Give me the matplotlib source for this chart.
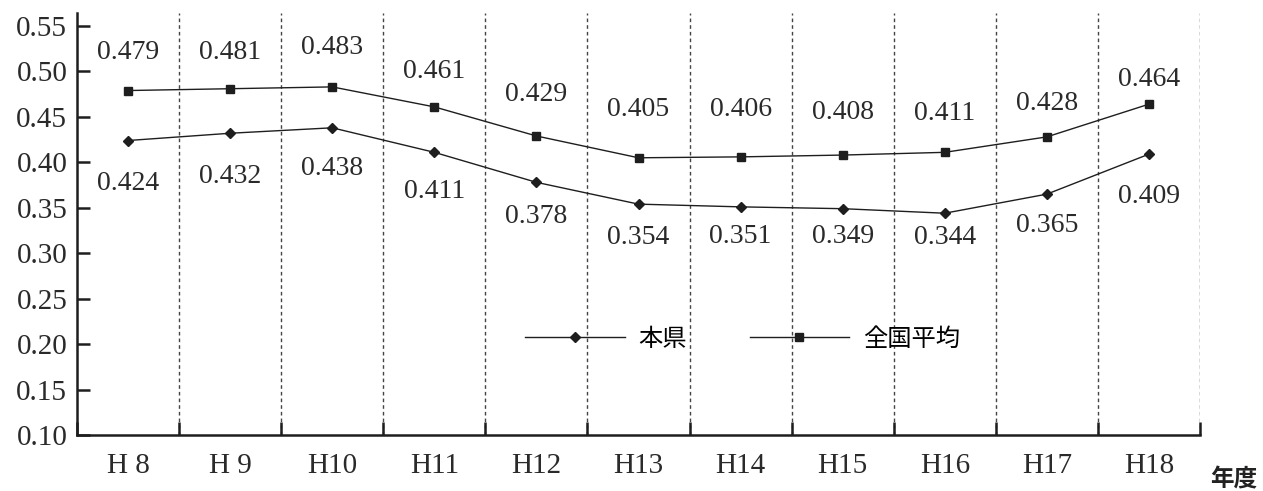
import matplotlib
matplotlib.use("Agg")
import matplotlib.pyplot as plt
from matplotlib.ticker import MultipleLocator, FixedLocator

plt.rcParams['font.family'] = ['Liberation Serif', 'Noto Sans CJK JP']

# Fiscal years and the two series
years = ["H 8", "H 9", "H10", "H11", "H12", "H13", "H14", "H15", "H16", "H17", "H18"]
national = [0.479, 0.481, 0.483, 0.461, 0.429, 0.405, 0.406, 0.408, 0.411, 0.428, 0.464]
prefecture = [0.424, 0.432, 0.438, 0.411, 0.378, 0.354, 0.351, 0.349, 0.344, 0.365, 0.409]

# vertical offsets (points) of the value labels so they clear the lines
national_dy = [27.4, 25.9, 28.1, 25.2, 30.2, 34.6, 33.8, 31.0, 28.1, 23.8, 18.0]
prefecture_dy = [31.0, 31.0, 29.5, 28.1, 24.5, 23.8, 21.6, 20.2, 17.3, 22.3, 30.2]

ink = "#1e1e1e"
sans = "Noto Sans CJK JP"

fig = plt.figure(figsize=(12.63, 4.91), dpi=100)
ax = fig.add_axes([0.0610, 0.1141, 0.8891, 0.8594])

x = [i + 0.5 for i in range(len(years))]

# dotted separators between the years
for b in range(1, len(years) + 1):
    ax.axvline(b, color="#444444", lw=1.0, ls=(0, (2.6, 2.2)), zorder=1)

ax.plot(x, prefecture, color=ink, lw=1.0, marker="D", ms=5.2,
        mfc=ink, mec=ink, label="本県", zorder=3)
ax.plot(x, national, color=ink, lw=1.0, marker="s", ms=5.4,
        mfc=ink, mec=ink, label="全国平均", zorder=3)

for xi, v, dy in zip(x, national, national_dy):
    ax.annotate(f"{v:.3f}", (xi, v), xytext=(0, dy), textcoords="offset points",
                ha="center", va="center", fontsize=20, color="#2a2a2a")
for xi, v, dy in zip(x, prefecture, prefecture_dy):
    ax.annotate(f"{v:.3f}", (xi, v), xytext=(0, -dy), textcoords="offset points",
                ha="center", va="center", fontsize=20, color="#2a2a2a")

ax.set_xlim(0, len(years))
ax.set_ylim(0.10, 0.5643)

ax.yaxis.set_major_locator(MultipleLocator(0.05))
ax.yaxis.set_major_formatter(plt.FuncFormatter(lambda v, p: f"{v:.2f}"))
ax.tick_params(axis="y", direction="in", length=9.5, width=1.8, color=ink,
               labelsize=21, pad=7, labelcolor="#2a2a2a")

ax.xaxis.set_major_locator(FixedLocator(range(len(years) + 1)))
ax.xaxis.set_minor_locator(FixedLocator(x))
ax.xaxis.set_major_formatter(plt.NullFormatter())
ax.xaxis.set_minor_formatter(plt.FixedFormatter(years))
ax.tick_params(axis="x", which="major", direction="in", length=9.5, width=1.8, color=ink)
ax.tick_params(axis="x", which="minor", length=0, labelsize=21, pad=13,
               labelcolor="#2a2a2a")

for side in ["top", "right"]:
    ax.spines[side].set_visible(False)
for side in ["left", "bottom"]:
    ax.spines[side].set_linewidth(1.8)
    ax.spines[side].set_color(ink)

ax.legend(loc="center left", bbox_to_anchor=(0.388, 0.228), ncol=2, frameon=False,
          prop={"family": sans, "size": 17.5}, handlelength=4.1, handletextpad=0.55,
          columnspacing=2.6, borderpad=0, numpoints=1)

fig.text(1234 / 1263, 1 - 479 / 491, "年度", family=sans, fontsize=17,
         fontweight="bold", ha="center", va="center", color="#222222")

fig.savefig("out.png", dpi=100)
